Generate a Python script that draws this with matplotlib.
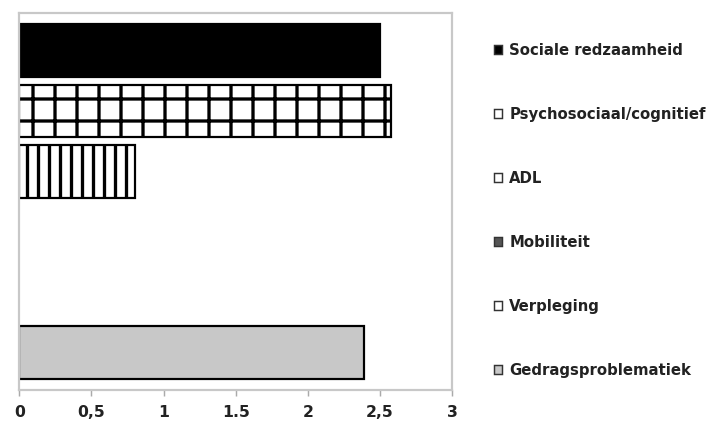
import matplotlib.pyplot as plt
from matplotlib.patches import Patch

categories = ["Sociale redzaamheid", "Psychosociaal/cognitief", "ADL",
              "Mobiliteit", "Verpleging", "Gedragsproblematiek"]
values = [2.5, 2.58, 0.8, 0.0, 0.0, 2.39]
colors = ["black", "white", "white", "#555555", "white", "#c8c8c8"]
hatches = [None, "+", "||", None, None, None]
xticks = [0, 0.5, 1, 1.5, 2, 2.5, 3]
xtick_labels = ["0", "0,5", "1", "1.5", "2", "2,5", "3"]

plt.rcParams['hatch.linewidth'] = 1.8
DPI = 132
fig = plt.figure(figsize=(713 / DPI, 423 / DPI), dpi=DPI)
ax = fig.add_axes([0.027, 0.078, 0.607, 0.891])

ypos = list(range(len(categories)))
for y, v, c, h in zip(ypos, values, colors, hatches):
    ax.barh(y, v, height=0.87, color=c, hatch=h, edgecolor="black",
            linewidth=1.2 if v > 0 else 0)

ax.set_xlim(0, 3)
ax.set_ylim(5.62, -0.62)
ax.set_yticks([])
ax.set_xticks(xticks)
ax.set_xticklabels(xtick_labels, fontsize=8.5, fontweight="bold", color="#222222")
ax.tick_params(axis="x", length=3, color="#aaaaaa", pad=5)
for s in ax.spines.values():
    s.set_color("#c8c8c8")
    s.set_linewidth(1.2)

handles = [Patch(facecolor=c, edgecolor="#333333", linewidth=0.8) for c in colors]
fig.legend(handles, categories, loc="upper left", bbox_to_anchor=(0.684, 0.913),
           frameon=False, handlelength=0.55, handleheight=0.55, handletextpad=0.5,
           labelspacing=3.3, borderaxespad=0, prop={"size": 8.1, "weight": "bold"},
           labelcolor="#222222")

fig.savefig("out.png", dpi=DPI)
